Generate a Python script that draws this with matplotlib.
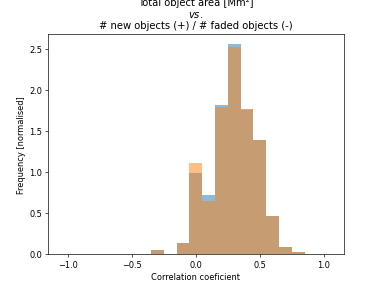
import numpy as np
import matplotlib
matplotlib.use('Agg')
import matplotlib.pyplot as plt

# bin edges of width 0.1 centred on multiples of 0.1
edges = np.round(np.arange(-1.05, 1.06, 0.1), 2)
centres = np.round(np.arange(-1.0, 1.01, 0.1), 2)

# normalised frequencies
area_new = [0, 0, 0, 0, 0, 0, 0, 0.06, 0, 0.14, 0.99, 0.72, 1.82, 2.56,
            1.77, 1.40, 0.47, 0.09, 0.03, 0, 0]
area_faded = [0, 0, 0, 0, 0, 0, 0, 0.06, 0, 0.14, 1.12, 0.655, 1.80, 2.53,
              1.755, 1.39, 0.47, 0.09, 0.03, 0, 0]

fig, ax = plt.subplots(figsize=(6.4, 4.8), dpi=382 / 6.4)
ax.hist(centres, bins=edges, weights=area_new, alpha=0.5)
ax.hist(centres, bins=edges, weights=area_faded, alpha=0.5)
ax.set_xlabel('Correlation coeficient')
ax.set_ylabel('Frequency [normalised]')
ax.set_title('Total object area [Mm²]\n$\\it{vs.}$\n# new objects (+) / # faded objects (-)')
fig.savefig('out.png')
